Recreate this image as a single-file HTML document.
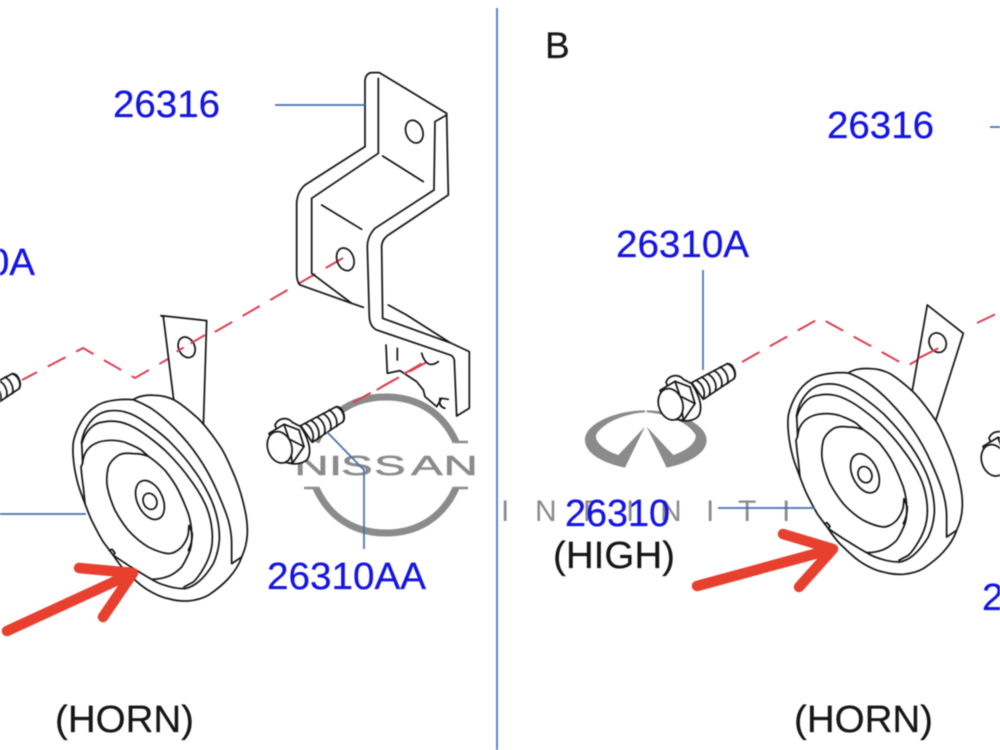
<!DOCTYPE html>
<html><head><meta charset="utf-8"><style>
html,body{margin:0;padding:0;background:#fff;width:1000px;height:750px;overflow:hidden}
svg{display:block;filter:blur(.45px)}
text{font-family:"Liberation Sans",sans-serif}
.b{fill:#1414e4;font-size:38px;stroke:#1414e4;stroke-width:.25}
.k{fill:#161616;font-size:38px;stroke:#161616;stroke-width:.2}
.l{fill:none;stroke:#161616;stroke-width:5.2;stroke-linejoin:round;stroke-linecap:round}
.w{fill:#fff;stroke:#161616;stroke-width:5.2;stroke-linejoin:round;stroke-linecap:round}
.lead{fill:none;stroke:#4a6fae;stroke-width:1.7}
.dash{fill:none;stroke:#dc3f52;stroke-width:2;stroke-dasharray:20 12}
.arrow{fill:none;stroke:#e8402f;stroke-width:10.5;stroke-linecap:round;stroke-linejoin:round}
</style></head><body>
<svg width="1000" height="750" viewBox="0 0 1000 750" xmlns="http://www.w3.org/2000/svg">
<defs>
<g id="horn"><g transform="translate(195,261)">
<path class="w" d="M205,38C185,36 120,36 90,60C60,78 35,120 25,165C22,195 25,215 28,240C32,265 38,290 45,310L60,350C68,372 75,392 85,410C95,430 105,450 115,465L145,505C158,525 172,545 190,560C208,578 228,597 250,610C270,622 290,632 310,635C330,641 350,643 370,642C392,640 412,635 430,625C452,610 472,595 490,575C508,555 522,535 530,510C541,487 546,464 547,440C548,415 545,392 540,370C533,335 522,300 510,270C497,240 485,210 470,185C448,152 425,120 400,95C378,75 355,55 330,40C310,30 290,25 270,25C250,23 222,26 205,38Z"/>
<path class="l" d="M205,38C225,46 242,54 260,65C285,82 308,102 330,125C356,152 380,180 400,210C422,242 440,276 455,310C470,344 482,372 490,400C497,425 500,448 500,470L500,530L530,510"/>
<path class="l" d="M50,165C52,150 56,140 60,130C68,115 78,100 90,90C102,80 116,74 130,72C146,70 164,70 180,75C200,80 222,92 240,105C265,122 288,140 310,160C335,185 360,212 380,240C400,266 416,292 430,320C444,347 453,375 458,400C462,420 464,440 463,460C461,485 455,508 445,530C433,550 418,570 400,585C388,595 374,602 360,605"/>
<path class="l" d="M50,170C56,150 64,136 75,125C86,113 100,106 115,105C132,101 150,102 165,105C188,110 210,122 230,135C255,152 278,170 300,190C325,215 350,242 370,270C390,296 407,322 420,350C430,372 437,396 440,420C443,440 443,460 440,480C436,503 427,525 415,545C405,562 396,575 385,585L357,600"/>
<path class="l" d="M53,228C54,218 56,208 60,200C67,186 78,176 90,170C106,162 124,160 140,160C158,160 175,163 190,170C205,176 220,183 230,190L250,208C268,220 285,235 300,250C316,270 330,290 340,310C352,334 362,358 370,380C376,400 380,420 380,440C381,458 380,474 375,490C368,508 360,525 350,540C338,552 325,562 310,568C294,574 276,577 260,577"/>
<path class="l" d="M250,208C235,202 220,200 205,200C188,198 172,198 160,205C145,215 135,226 130,240C125,260 124,280 127,300C132,325 140,348 150,370C162,392 175,412 190,430C208,450 228,467 250,480C270,490 290,498 310,500C325,500 338,492 350,480C360,468 367,454 370,440L372,415L382,440C382,460 378,475 370,490"/>
<path class="l" d="M50,165L53,228L48,240C50,262 52,282 55,300L60,350"/>
<path class="l" d="M133,490L141,487L150,498L145,505C160,515 175,525 190,535C215,550 238,565 260,577C272,585 286,591 300,595C318,601 338,605 357,605"/>
<ellipse class="l" cx="255" cy="339" rx="38" ry="62" transform="rotate(-25 255 339)"/>
<ellipse class="l" cx="255" cy="343" rx="20" ry="25" transform="rotate(-25 255 343)"/>
</g></g>
<g id="bolt">
<path class="w" d="M155,272L262,215C280,215 292,245 282,260L190,322Z"/>
<path class="l" d="M262,215C280,222 290,245 282,260M240,225C258,235 268,258 262,275M222,236C240,245 250,268 244,285M204,246C222,256 232,278 226,296M186,256C204,266 214,290 208,308M170,266C188,276 198,300 190,320"/>
<path class="w" d="M78,270C88,248 115,245 130,262L155,275C172,300 190,340 178,368C170,385 140,390 118,384Z"/>
<path class="w" d="M60,295L105,268L150,285L165,335L130,385L90,380Z"/>
<path class="l" d="M105,268L120,312L165,335M120,312L130,385"/>
<ellipse class="w" cx="92" cy="337" rx="36" ry="48" transform="rotate(-18 92 337)"/>
</g>
</defs>
<rect width="1000" height="750" fill="#fff"/>

<!-- Nissan logo -->
<g fill="none" stroke="#8b8b8b">
<path stroke-width="7" d="M316,442C330,411 356,397 386,397C416,397 442,411 456,442"/>
<path stroke-width="2.5" d="M455,442H468"/>
<path stroke-width="7" d="M316,488C330,519 356,533 386,533C416,533 442,519 456,488"/>
<path stroke-width="2.5" d="M304,488H318M454,488H468"/>
</g>
<g transform="scale(1.7,1)"><text y="475" font-size="28" fill="#8b8b8b" stroke="#8b8b8b" stroke-width=".5" x="173.2 193.5 200.6 220 241.8 260.9">NISSAN</text></g>

<!-- Infiniti logo -->
<g transform="translate(490,400) scale(.3333)" fill="#8b8b8b">
<path d="M465,31C380,31 285,70 285,120C285,160 340,190 405,203L465,80L385,165C340,150 315,125 318,105C340,65 410,40 465,37Z"/>
<path d="M470,31C555,31 650,70 650,120C650,160 595,190 530,203L470,80L550,165C595,150 620,125 617,105C595,65 525,40 470,37Z"/>
</g>
<text y="521" font-size="30" fill="#8b8b8b" x="501 535 583 626 660 706 738 782">INFINITI</text>

<!-- divider -->
<line x1="497" y1="8" x2="497" y2="750" stroke="#5f86c6" stroke-width="2"/>

<!-- dashed centre lines -->
<path class="dash" d="M343,258L135,378L83,348L22,380"/>
<path class="dash" d="M427,362L343,408"/>
<path class="dash" d="M742,362L820,318L907,366L938,348M977,323L1000,312"/>

<!-- bracket -->
<g transform="translate(260,60) scale(.3333)">
<path class="l" d="M315,260V60Q318,40 335,38H358L560,160L565,405L385,525Q365,540 365,560L368,775L570,848L628,875V1045L590,1068L583,900Q580,888 570,885L350,810Q330,800 328,770L322,560Q322,530 345,505L522,390L525,185L560,165"/>
<path class="l" d="M355,55V280L155,415V640L275,730L120,675Q110,665 110,640V430Q112,395 135,375L315,260"/>
<path class="l" d="M368,288L490,365M185,435L305,508M275,730L310,742M385,735L440,765L570,848"/>
<ellipse class="l" cx="463" cy="215" rx="25" ry="35" transform="rotate(-20 463 215)"/>
<ellipse class="l" cx="256" cy="598" rx="25" ry="35" transform="rotate(-20 256 598)"/>
<path class="l" d="M378,855L382,940L420,932L470,965L490,990L495,1010L530,1040L545,1015L565,1018M540,1015Q535,1040 555,1045M412,865V900M485,880Q500,930 535,905"/>
<path d="M350,990L495,905" fill="none" stroke="#dc3f52" stroke-width="6" stroke-dasharray="60 36"/>
</g>

<!-- left ear and horn -->
<g transform="translate(0,300) scale(.3333)">
<path class="w" d="M525,330L490,50L483,47L620,62L610,385"/>
<ellipse class="l" cx="560" cy="142" rx="24" ry="32" transform="rotate(-25 560 142)"/>
<path d="M615,105L530,155" fill="none" stroke="#dc3f52" stroke-width="6" stroke-dasharray="50 24"/>
<use href="#horn"/>
</g>

<!-- right ear and horn -->
<g transform="translate(640,290) scale(.3333)">
<path class="w" d="M812,330L862,45L970,130L880,415"/>
<ellipse class="l" cx="893" cy="158" rx="25" ry="30" transform="rotate(-25 893 158)"/>
<path d="M835,205L895,175" fill="none" stroke="#dc3f52" stroke-width="6"/>
<g transform="translate(225,-50)"><use href="#horn"/></g>
</g>

<!-- bolts -->
<g transform="translate(640,292) scale(.3333)"><use href="#bolt"/></g>
<g transform="translate(249,335) scale(.3333)"><use href="#bolt"/></g>
<g transform="translate(-75,302) scale(.3333)"><use href="#bolt"/></g>
<g transform="translate(963,348) scale(.3333)"><use href="#bolt"/></g>

<!-- leaders -->
<path class="lead" d="M275,105H365M0,514H86M327,432L364,470V549M703,270V370M990,127H1000M718,508H815"/>

<!-- arrows -->
<g class="arrow"><path d="M7,631L133,573M79,568L133,573L103,617"/></g>
<g class="arrow"><path d="M697,586L833,549M783,534L833,549L799,587"/></g>

<!-- labels -->
<text class="k" x="545" y="58" style="font-size:37px">B</text>
<text class="b" x="113" y="117" textLength="107" lengthAdjust="spacingAndGlyphs">26316</text>
<text class="b" x="-98" y="275" textLength="133" lengthAdjust="spacingAndGlyphs">26310A</text>
<text class="b" x="267" y="589" textLength="159" lengthAdjust="spacingAndGlyphs">26310AA</text>
<text class="b" x="827" y="138" textLength="107" lengthAdjust="spacingAndGlyphs">26316</text>
<text class="b" x="616" y="257" textLength="133" lengthAdjust="spacingAndGlyphs">26310A</text>
<text class="b" x="565" y="526" textLength="105" lengthAdjust="spacingAndGlyphs">26310</text>
<text class="b" x="982" y="610" textLength="159" lengthAdjust="spacingAndGlyphs">26310AA</text>
<text class="k" x="553" y="568" textLength="122" lengthAdjust="spacingAndGlyphs">(HIGH)</text>
<text class="k" x="55" y="732" textLength="139" lengthAdjust="spacingAndGlyphs">(HORN)</text>
<text class="k" x="794" y="732" textLength="139" lengthAdjust="spacingAndGlyphs">(HORN)</text>
</svg>
</body></html>
